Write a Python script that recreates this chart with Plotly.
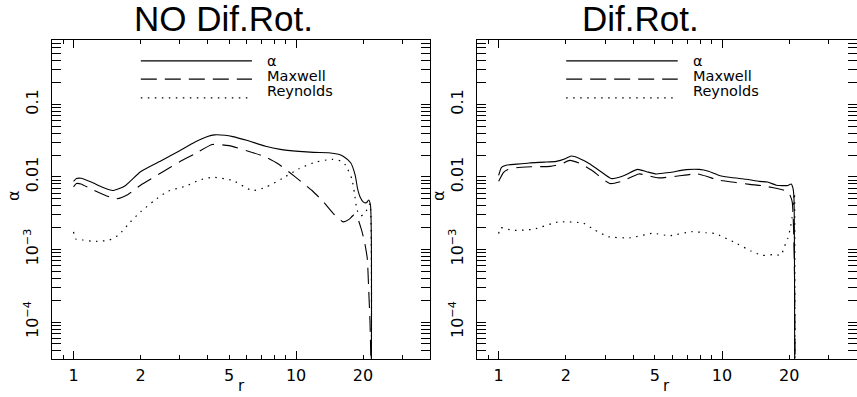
import numpy as np
import plotly.graph_objects as go

# ---------------- data ----------------
panel_titles = ["NO Dif.Rot.", "Dif.Rot."]
series_names = ["α", "Maxwell", "Reynolds"]
x_tick_vals = [1, 2, 5, 10, 20]
x_tick_text = ["1", "2", "5", "10", "20"]
y_tick_vals = [1e-4, 1e-3, 1e-2, 1e-1]
y_tick_text = ["10<sup>−4</sup>", "10<sup>−3</sup>", "0.01", "0.1"]

# Left panel: NO Dif.Rot.
r_nd_alpha = [1.0, 1.03, 1.08, 1.2, 1.35, 1.5, 1.7, 2.0, 2.5, 3.0, 3.5, 4.0, 4.3, 4.8, 5.2, 6.0,
              7.3, 8.5, 10.3, 12.0, 14.0, 15.5, 16.4, 17.6, 18.45, 18.9, 19.4, 20.1, 20.7, 21.2, 21.6, 21.8]
a_nd_alpha = [0.0087, 0.0095, 0.0096, 0.0085, 0.0072, 0.0065, 0.0075, 0.0118, 0.017, 0.023, 0.030, 0.036, 0.038, 0.0375, 0.036, 0.032,
              0.0265, 0.024, 0.0225, 0.0218, 0.0216, 0.0205, 0.019, 0.0157, 0.0105, 0.0069, 0.0053, 0.0045, 0.0044, 0.0048, 0.0041, 2e-5]

r_nd_max = [1.0, 1.03, 1.08, 1.2, 1.4, 1.56, 1.75, 2.0, 2.5, 3.0, 3.5, 4.2, 5.0, 6.0, 7.3, 8.3, 9.3,
            10.5, 11.8, 13.3, 14.9, 16.3, 17.3, 18.2, 18.9, 19.6, 20.3, 20.9, 21.2, 21.5, 21.75]
a_nd_max = [0.0073, 0.0081, 0.0080, 0.0068, 0.0055, 0.0050, 0.0057, 0.0077, 0.0116, 0.0162, 0.0207, 0.028, 0.027, 0.023, 0.0188, 0.0152, 0.0117,
            0.0087, 0.0065, 0.0045, 0.0030, 0.0024, 0.0026, 0.0030, 0.0027, 0.00195, 0.00129, 0.00075, 0.00029, 0.0001, 2e-5]

r_nd_rey = [1.0, 1.02, 1.1, 1.2, 1.31, 1.45, 1.6, 1.8, 2.0, 2.3, 2.64, 3.2, 3.66, 4.2, 5.17, 6.35, 7.3, 8.66,
            10.3, 12.2, 14.5, 16.0, 16.7, 17.8, 18.3, 18.8, 19.5, 20.3, 21.0, 21.5, 21.8]
a_nd_rey = [0.00175, 0.0014, 0.00135, 0.0013, 0.0013, 0.00135, 0.0016, 0.0024, 0.0033, 0.0047, 0.0063, 0.0075, 0.009, 0.0099, 0.009, 0.0065, 0.0072, 0.0095,
            0.013, 0.016, 0.0175, 0.0165, 0.0145, 0.0095, 0.006, 0.0035, 0.0029, 0.0031, 0.0037, 0.0043, 2e-5]

# Right panel: Dif.Rot.
r_dr_alpha = [1.0, 1.03, 1.08, 1.2, 1.37, 1.6, 1.81, 2.0, 2.11, 2.3, 2.55, 2.85, 3.19, 3.6, 4.19, 4.6, 5.07, 5.8,
              6.9, 7.9, 8.7, 9.73, 11.0, 12.8, 14.7, 16.0, 17.5, 18.7, 19.6, 20.4, 20.8, 21.0, 21.15]
a_dr_alpha = [0.0105, 0.0135, 0.0145, 0.015, 0.0156, 0.016, 0.0164, 0.018, 0.0194, 0.018, 0.0152, 0.012, 0.0095, 0.0103, 0.0127, 0.0118, 0.011, 0.0115,
              0.0126, 0.0127, 0.012, 0.0105, 0.0098, 0.0093, 0.0087, 0.0085, 0.0077, 0.0076, 0.0076, 0.0080, 0.0069, 0.005, 2e-5]

r_dr_max = [1.0, 1.05, 1.1, 1.2, 1.4, 1.7, 1.9, 2.08, 2.3, 2.6, 3.15, 3.6, 4.25, 5.2, 6.2, 7.3, 7.9, 8.7,
            9.7, 11.5, 13.3, 15.0, 17.0, 18.8, 19.8, 20.6, 20.9, 21.1, 21.25]
a_dr_max = [0.0087, 0.0115, 0.0127, 0.0134, 0.0138, 0.0140, 0.015, 0.0169, 0.0155, 0.0125, 0.0081, 0.0088, 0.011, 0.0097, 0.0102, 0.0109, 0.0109, 0.0100,
            0.009, 0.0084, 0.0079, 0.0076, 0.0071, 0.0066, 0.0063, 0.0046, 0.002, 0.0005, 2e-5]

r_dr_rey = [1.0, 1.02, 1.15, 1.43, 1.85, 2.4, 2.66, 3.1, 3.9, 4.9, 5.8, 7.3, 8.5, 9.3, 11.7, 13.5, 15.1, 17.0,
            18.4, 19.0, 19.7, 20.2, 20.6, 20.9, 21.1, 21.2]
a_dr_rey = [0.00166, 0.0020, 0.00184, 0.0019, 0.0024, 0.0023, 0.0019, 0.0015, 0.00145, 0.00167, 0.00155, 0.00176, 0.0017, 0.00166, 0.0012, 0.00095, 0.00083, 0.00085,
            0.00084, 0.00109, 0.00142, 0.00194, 0.0028, 0.0045, 0.006, 2e-5]

# ---------------- styling ----------------
W, H = 857, 397
FONT = "DejaVu Sans"
LINE_STYLES = [
    dict(color="black", width=1.1, dash="solid"),
    dict(color="black", width=1.1, dash="16px,8px"),
    dict(color="black", width=1.2, dash="1.5px,5.5px"),
]
XR = [np.log10(0.8), np.log10(40)]
YR = [-4.51, -0.105]
x_domains = [[52 / W, 430 / W], [477 / W, 856.5 / W]]
y_domain = [1 - 359 / H, 1 - 39.5 / H]

fig = go.Figure()

panels = [
    [(r_nd_alpha, a_nd_alpha), (r_nd_max, a_nd_max), (r_nd_rey, a_nd_rey)],
    [(r_dr_alpha, a_dr_alpha), (r_dr_max, a_dr_max), (r_dr_rey, a_dr_rey)],
]

for p, series in enumerate(panels):
    xa = "x" if p == 0 else "x2"
    ya = "y" if p == 0 else "y2"
    for (r, a), st, name in zip(series, LINE_STYLES, series_names):
        fig.add_trace(go.Scatter(x=r, y=a, mode="lines", name=name,
                                 line=dict(**st, shape="spline", smoothing=0.5),
                                 xaxis=xa, yaxis=ya, showlegend=False, hoverinfo="skip"))
    # empty trace to activate the overlay axis that carries the long decade ticks
    fig.add_trace(go.Scatter(x=[], y=[], xaxis="x3" if p == 0 else "x4", yaxis=ya,
                             showlegend=False, hoverinfo="skip"))

tickfont = dict(family=FONT, size=16, color="black")


def xaxis_cfg(dom, anchor):
    return dict(type="log", range=XR, domain=dom, anchor=anchor,
                tickmode="array", tickvals=x_tick_vals, ticktext=x_tick_text,
                ticks="inside", ticklen=4, tickwidth=1, tickcolor="black",
                showline=True, linecolor="black", linewidth=1, mirror="allticks",
                showgrid=False, zeroline=False, tickfont=tickfont, ticklabelstandoff=2,
                minor=dict(dtick="D1", ticks="inside", ticklen=4, tickwidth=1,
                           tickcolor="black", showgrid=False))


def xover_cfg(dom, anchor, over):
    return dict(type="log", range=XR, domain=dom, anchor=anchor, overlaying=over,
                tickmode="array", tickvals=[1, 10], ticks="inside", ticklen=8,
                tickwidth=1, tickcolor="black", showticklabels=False,
                showline=True, linecolor="black", linewidth=1, mirror="allticks",
                showgrid=False, zeroline=False)


def yaxis_cfg(anchor):
    return dict(type="log", range=YR, domain=y_domain, anchor=anchor,
                tickmode="array", tickvals=y_tick_vals, ticktext=y_tick_text, tickangle=-90,
                ticks="inside", ticklen=9, tickwidth=1, tickcolor="black",
                showline=True, linecolor="black", linewidth=1, mirror="allticks",
                showgrid=False, zeroline=False, tickfont=tickfont, ticklabelstandoff=7,
                minor=dict(dtick="D1", ticks="inside", ticklen=4, tickwidth=1,
                           tickcolor="black", showgrid=False))


fig.update_layout(
    width=W, height=H,
    margin=dict(l=0, r=0, t=0, b=0),
    paper_bgcolor="white", plot_bgcolor="white",
    showlegend=False,
    xaxis=xaxis_cfg(x_domains[0], "y"),
    xaxis2=xaxis_cfg(x_domains[1], "y2"),
    xaxis3=xover_cfg(x_domains[0], "y", "x"),
    xaxis4=xover_cfg(x_domains[1], "y2", "x2"),
    yaxis=yaxis_cfg("x"),
    yaxis2=yaxis_cfg("x2"),
)

annotations = []
shapes = []
title_x = [223.5, 640.5]
for p in range(2):
    xref = "x domain" if p == 0 else "x2 domain"
    yref = "y domain" if p == 0 else "y2 domain"
    # panel title
    annotations.append(dict(text=panel_titles[p], x=title_x[p] / W, y=1 - 19 / H,
                            xref="paper", yref="paper", xanchor="center", yanchor="middle",
                            showarrow=False, font=dict(family="Liberation Sans", size=35, color="black")))
    # axis titles
    x0, x1 = x_domains[p]
    annotations.append(dict(text="r", x=(x0 + x1) / 2, y=1 - 386 / H, xref="paper", yref="paper",
                            xanchor="center", yanchor="middle", showarrow=False,
                            font=dict(family=FONT, size=15, color="black")))
    annotations.append(dict(text="α", x=(x0 * W - 39) / W, y=1 - 196 / H, xref="paper", yref="paper",
                            xanchor="center", yanchor="middle", textangle=-90, showarrow=False,
                            font=dict(family=FONT, size=16, color="black")))
    # in-plot legend
    line_y = [0.933, 0.876, 0.817]
    text_y = [0.933, 0.886, 0.839]
    for i, name in enumerate(series_names):
        st = LINE_STYLES[i]
        shapes.append(dict(type="line", xref=xref, yref=yref, x0=0.235, x1=0.529,
                           y0=line_y[i], y1=line_y[i],
                           line=dict(color="black", width=st["width"], dash=st["dash"])))
        annotations.append(dict(text=name, x=0.563, y=text_y[i], xref=xref, yref=yref,
                                xanchor="left", yanchor="middle", showarrow=False,
                                font=dict(family=FONT, size=14.5, color="black")))

fig.update_layout(annotations=annotations, shapes=shapes)
fig.write_html("out.html")
